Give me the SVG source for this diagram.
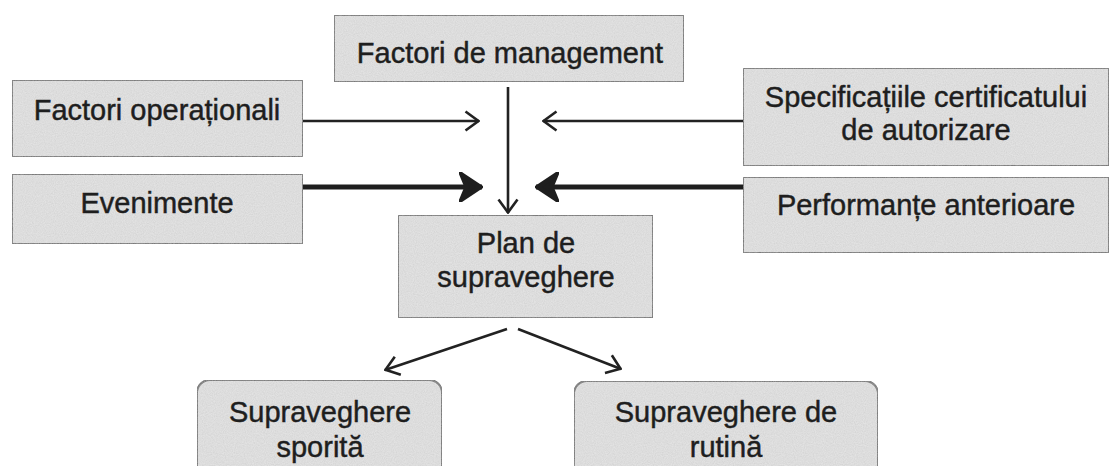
<svg xmlns="http://www.w3.org/2000/svg" width="1109" height="466" viewBox="0 0 1109 466">
  <defs>
    <filter id="grain" x="0" y="0" width="100%" height="100%">
      <feTurbulence type="fractalNoise" baseFrequency="0.9" numOctaves="2" seed="3" result="noise"/>
      <feColorMatrix in="noise" type="matrix" values="0 0 0 0 0.5  0 0 0 0 0.5  0 0 0 0 0.5  0 0 0 0.6 -0.15" result="speck"/>
      <feComposite in="speck" in2="SourceGraphic" operator="atop" result="sp"/>
      <feMerge><feMergeNode in="SourceGraphic"/><feMergeNode in="sp"/></feMerge>
    </filter>
    <marker id="thin" viewBox="0 0 16 22" refX="15" refY="11" markerWidth="16" markerHeight="22" markerUnits="userSpaceOnUse" orient="auto">
      <path d="M1.5,1.5 L14.5,11 L1.5,20.5" fill="none" stroke="#222" stroke-width="2.6" stroke-linejoin="miter"/>
    </marker>
    <marker id="thick" viewBox="0 0 24 30" refX="23" refY="15" markerWidth="24" markerHeight="30" markerUnits="userSpaceOnUse" orient="auto">
      <path d="M3,3 L21,15 L3,27 L8,15 Z" fill="#1e1e1e" stroke="#1e1e1e" stroke-width="5" stroke-linejoin="miter"/>
    </marker>
  </defs>
  <style>
    .box { fill: #e2e2e2; stroke: #7a7a7a; stroke-width: 2; }
    .lbl { font-family: "Liberation Sans", Arial, sans-serif; font-size: 29px; fill: #1e1e1e; stroke: #1e1e1e; stroke-width: 0.45; text-anchor: middle; }
    .c-thin { stroke: #222; stroke-width: 2.6; fill: none; marker-end: url(#thin); }
    .c-thick { stroke: #1e1e1e; stroke-width: 5; fill: none; marker-end: url(#thick); }
  </style>
  <rect width="1109" height="466" fill="#ffffff"/>

  <g id="factori-management">
    <rect class="box" x="334" y="15" width="350" height="67" filter="url(#grain)"/>
    <text class="lbl" x="510" y="63">Factori de management</text>
  </g>
  <g id="factori-operationali">
    <rect class="box" x="12" y="80" width="291" height="77" filter="url(#grain)"/>
    <text class="lbl" x="157" y="120">Factori operaționali</text>
  </g>
  <g id="evenimente">
    <rect class="box" x="12" y="174" width="291" height="70" filter="url(#grain)"/>
    <text class="lbl" x="157" y="213">Evenimente</text>
  </g>
  <g id="specificatii">
    <rect class="box" x="743" y="68" width="366" height="98" filter="url(#grain)"/>
    <text class="lbl" x="926" y="107">Specificațiile certificatului</text>
    <text class="lbl" x="926" y="140">de autorizare</text>
  </g>
  <g id="performante">
    <rect class="box" x="743" y="177" width="366" height="76" filter="url(#grain)"/>
    <text class="lbl" x="926" y="215">Performanțe anterioare</text>
  </g>
  <g id="plan">
    <rect class="box" x="398" y="215" width="255" height="103" filter="url(#grain)"/>
    <text class="lbl" x="526" y="253">Plan de</text>
    <text class="lbl" x="526" y="287">supraveghere</text>
  </g>
  <g id="sporita">
    <rect class="box" x="197" y="380" width="245" height="100" rx="13" ry="13" filter="url(#grain)"/>
    <text class="lbl" x="320" y="422">Supraveghere</text>
    <text class="lbl" x="320" y="457">sporită</text>
  </g>
  <g id="rutina">
    <rect class="box" x="574" y="381" width="304" height="100" rx="13" ry="13" filter="url(#grain)"/>
    <text class="lbl" x="726" y="422">Supraveghere de</text>
    <text class="lbl" x="726" y="457">rutină</text>
  </g>

  <g id="connectors">
    <line class="c-thin" x1="303" y1="121" x2="479" y2="121"/>
    <line class="c-thin" x1="743" y1="121" x2="543" y2="121"/>
    <line class="c-thick" x1="303" y1="187" x2="482" y2="187"/>
    <line class="c-thick" x1="743" y1="187" x2="536" y2="187"/>
    <line class="c-thin" x1="508" y1="87" x2="508" y2="213"/>
    <line class="c-thin" x1="507" y1="329" x2="385" y2="370"/>
    <line class="c-thin" x1="518" y1="329" x2="621" y2="369"/>
  </g>
</svg>
